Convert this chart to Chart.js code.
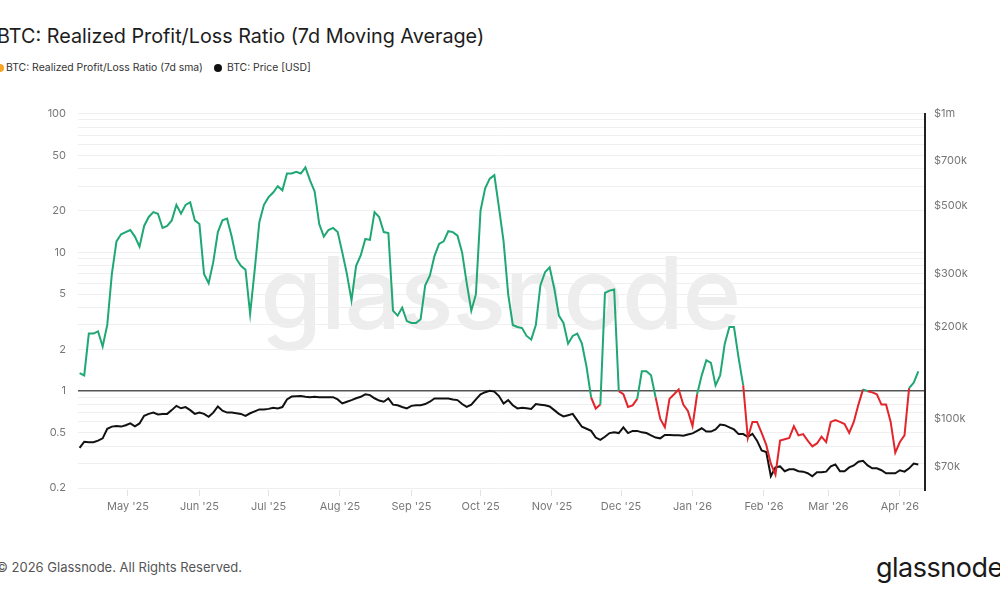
<!DOCTYPE html>
<html>
<head>
<meta charset="utf-8">
<script src="https://cdn.jsdelivr.net/npm/chart.js@4.4.1/dist/chart.umd.min.js"></script>
<style>
  body { margin: 0; width: 1000px; height: 600px; overflow: hidden; background: #fff; position: relative; font-family: Inter, "Noto Sans", sans-serif; }
  .abs { position: absolute; white-space: nowrap; }
  #title { left: -3px; top: 24px; font-size: 19.8px; color: #1d1d1d; }
  .leg { top: 61px; font-size: 10.4px; color: #333; }
  .dot { top: 64px; width: 8px; height: 8px; border-radius: 50%; }
  #watermark { left: 0; width: 1000px; top: 232px; text-align: center; font-size: 100px; font-weight: 500; color: #ededed; letter-spacing: -1.5px; }
  #wrap { left: 0; top: 95px; width: 1000px; height: 425px; }
  #footer { left: -4px; top: 559px; font-size: 13px; color: #555; }
  #logo { left: 876px; top: 551px; font-size: 27px; color: #1a1a1a; letter-spacing: -0.5px; }
</style>
</head>
<body>
<div id="title" class="abs">BTC: Realized Profit/Loss Ratio (7d Moving Average)</div>
<div class="abs dot" style="left:-4px; background:#f5a623"></div>
<div class="abs leg" style="left:6px">BTC: Realized Profit/Loss Ratio (7d sma)</div>
<div class="abs dot" style="left:214px; background:#111"></div>
<div class="abs leg" style="left:227px">BTC: Price [USD]</div>
<div id="watermark" class="abs">glassnode</div>
<div id="wrap" class="abs"><canvas id="chart"></canvas></div>
<div id="footer" class="abs">© 2026 Glassnode. All Rights Reserved.</div>
<div id="logo" class="abs">glassnode</div>
<script>
// one value every 2 days, starting 10 Apr 2025
const startDate = '2025-04-10'
const stepDays = 2

const ratio = [
    1.35, 1.3, 2.6, 2.6, 2.7, 2.1, 3.0, 7.0, 12, 13.5,
    14, 14.5, 13, 11, 15.5, 18, 19.5, 19, 15, 15.5,
    17, 22, 19, 22, 23, 17, 16, 7.0, 6.0, 8.5,
    14, 17, 17.5, 13, 9, 8, 7.5, 3.6, 7.5, 16.5,
    22, 25, 27, 30, 28, 37, 37, 38, 37, 41,
    33, 27.5, 16, 13, 14.5, 15, 14, 10, 7, 4.5,
    8, 9.5, 12.5, 12.3, 19.5, 18, 14, 13.8, 3.8, 3.5,
    4.0, 3.2, 3.1, 3.1, 3.3, 5.8, 6.8, 9.4, 11.5, 12,
    14.2, 14, 13.2, 10, 6, 3.8, 5, 20, 29, 34,
    36, 21, 12, 5, 3, 2.9, 2.85, 2.5, 2.35, 3.0,
    5.8, 7.2, 7.8, 5.5, 3.5, 3.1, 2.2, 2.5, 2.6, 2.2,
    1.5, 0.9, 0.75, 0.8, 5.1, 5.3, 5.4, 1.0, 0.95, 0.77,
    0.79, 0.88, 1.39, 1.39, 1.3, 0.9, 0.63, 0.55, 0.88, 0.95,
    1.03, 0.8, 0.72, 0.56, 0.95, 1.3, 1.67, 1.6, 1.1, 1.3,
    2.2, 2.9, 2.9, 1.74, 1.1, 0.46, 0.6, 0.6, 0.5, 0.41,
    0.3, 0.25, 0.44, 0.45, 0.46, 0.56, 0.48, 0.49, 0.44, 0.4,
    0.42, 0.47, 0.43, 0.6, 0.62, 0.6, 0.58, 0.5, 0.6, 0.8,
    1.03, 1.0, 0.98, 0.95, 0.8, 0.8, 0.6, 0.36, 0.43, 0.48,
    1.05, 1.15, 1.39
]

// BTC price, thousands of USD
const priceK = [
    80.5, 84.3, 84, 84, 85, 86.5, 93, 94.5, 95, 94.5,
    95.5, 96.8, 94.7, 96.8, 102.5, 104, 105, 103.5, 104, 104,
    107, 110.5, 108.5, 109.5, 107, 104, 105, 104, 101.7, 105,
    110, 106.5, 105, 105, 104.5, 104, 102.5, 104.5, 106, 107.6,
    107.6, 108, 109, 108.4, 109.5, 116, 118.5, 118.7, 118.9, 118.3,
    118, 118.3, 118, 118, 118, 118, 116, 112.5, 114, 115.4,
    117, 118.3, 120.5, 119.8, 117, 115, 114, 116.8, 111.5, 111,
    109.5, 108.4, 110.5, 111, 111, 112, 114, 116.8, 116.8, 116.8,
    116.8, 116, 115.4, 112, 109.7, 111.5, 116, 120.5, 122.5, 123.7,
    123, 119, 112.5, 115.4, 111, 108.4, 109, 108.5, 108, 112,
    111.5, 111, 110, 107, 104, 102, 103, 104, 99, 94.4,
    93, 91.5, 87, 85.5, 87.5, 90, 90.5, 90, 94, 90,
    91.5, 91.5, 90.5, 90, 88.5, 87, 86.5, 88.7, 88.7, 88.5,
    88.5, 88.2, 89, 89.8, 91.5, 93.3, 91, 91, 92.5, 96,
    95.5, 94, 92.5, 89.3, 89.3, 87.5, 89.5, 85, 79, 78,
    65, 69.5, 70, 67.5, 68.5, 68.5, 67.5, 67.3, 66.5, 65,
    67, 67, 67.3, 70, 71, 67.5, 67.5, 69.5, 70.5, 72.5,
    73, 70.5, 69, 69, 68, 66.5, 66.5, 66.5, 68, 67.3,
    69, 71.5, 71
]

const monthStarts = ['2025-05-01', '2025-06-01', '2025-07-01', '2025-08-01', '2025-09-01', '2025-10-01',
    '2025-11-01', '2025-12-01', '2026-01-01', '2026-02-01', '2026-03-01', '2026-04-01']
const monthLabels = ["May '25", "Jun '25", "Jul '25", "Aug '25", "Sep '25", "Oct '25",
    "Nov '25", "Dec '25", "Jan '26", "Feb '26", "Mar '26", "Apr '26"]

const ratioGrid = [0.2, 0.3, 0.4, 0.5, 0.6, 0.7, 0.8, 0.9, 1, 2, 3, 4, 5, 6, 7, 8, 9, 10, 20, 30, 40, 50, 60, 70, 80, 90, 100]
const ratioLabels = [0.2, 0.5, 1, 2, 5, 10, 20, 50, 100]
const priceTicks = [70, 100, 200, 300, 500, 700, 1000]
const priceLabels = ['$70k', '$100k', '$200k', '$300k', '$500k', '$700k', '$1m']

const green = '#1fa774'
const red = '#e2262c'

const dayOf = s => (Date.parse(s) - Date.parse(startDate)) / 86400000
const monthDays = monthStarts.map(dayOf)

const tickFont = { family: 'Inter', size: 11 }

new Chart(document.getElementById('chart'), {
    type: 'line',
    data: {
        datasets: [{
            label: 'BTC: Realized Profit/Loss Ratio (7d sma)',
            data: ratio.map((v, i) => ({ x: i * stepDays, y: v })),
            yAxisID: 'y',
            borderColor: green,
            borderWidth: 2,
            pointRadius: 0,
            segment: {
                borderColor: c => (c.p0.parsed.y + c.p1.parsed.y) / 2 < 1 ? red : green
            }
        }, {
            label: 'BTC: Price [USD]',
            data: priceK.map((v, i) => ({ x: i * stepDays, y: v })),
            yAxisID: 'y1',
            borderColor: '#111',
            borderWidth: 2,
            pointRadius: 0
        }]
    },
    options: {
        responsive: true,
        maintainAspectRatio: false,
        animation: false,
        layout: { padding: { top: 8 } },
        plugins: { legend: { display: false }, tooltip: { enabled: false } },
        scales: {
            x: {
                type: 'linear',
                min: -0.7,
                max: 366.9,
                afterBuildTicks: s => { s.ticks = monthDays.map(v => ({ value: v })) },
                afterFit: s => { s.height = 30 },
                ticks: {
                    autoSkip: false,
                    maxRotation: 0,
                    padding: 4,
                    color: '#777',
                    font: tickFont,
                    callback: (v, i) => monthLabels[i]
                },
                grid: { drawOnChartArea: false, tickLength: 6, color: '#e2e2e2' },
                border: { display: false }
            },
            y: {
                type: 'logarithmic',
                position: 'left',
                min: 0.194,
                max: 100,
                afterBuildTicks: s => { s.ticks = ratioGrid.map(v => ({ value: v })) },
                afterFit: s => { s.width = 78 },
                ticks: {
                    autoSkip: false,
                    padding: 12,
                    color: '#777',
                    font: tickFont,
                    callback: v => ratioLabels.includes(v) ? String(v) : ''
                },
                grid: {
                    drawTicks: false,
                    color: c => c.tick && c.tick.value === 1 ? '#555' : '#efefef',
                    lineWidth: c => c.tick && c.tick.value === 1 ? 1.6 : 1
                },
                border: { display: false }
            },
            y1: {
                type: 'logarithmic',
                position: 'right',
                min: 58.6,
                max: 1000,
                afterBuildTicks: s => { s.ticks = priceTicks.map(v => ({ value: v })) },
                afterFit: s => { s.width = 75 },
                ticks: {
                    autoSkip: false,
                    padding: 9,
                    color: '#777',
                    font: tickFont,
                    callback: v => priceLabels[priceTicks.indexOf(v)]
                },
                grid: { display: false, drawTicks: false },
                border: { display: true, color: '#222', width: 2 }
            }
        }
    }
});
</script>
</body>
</html>
